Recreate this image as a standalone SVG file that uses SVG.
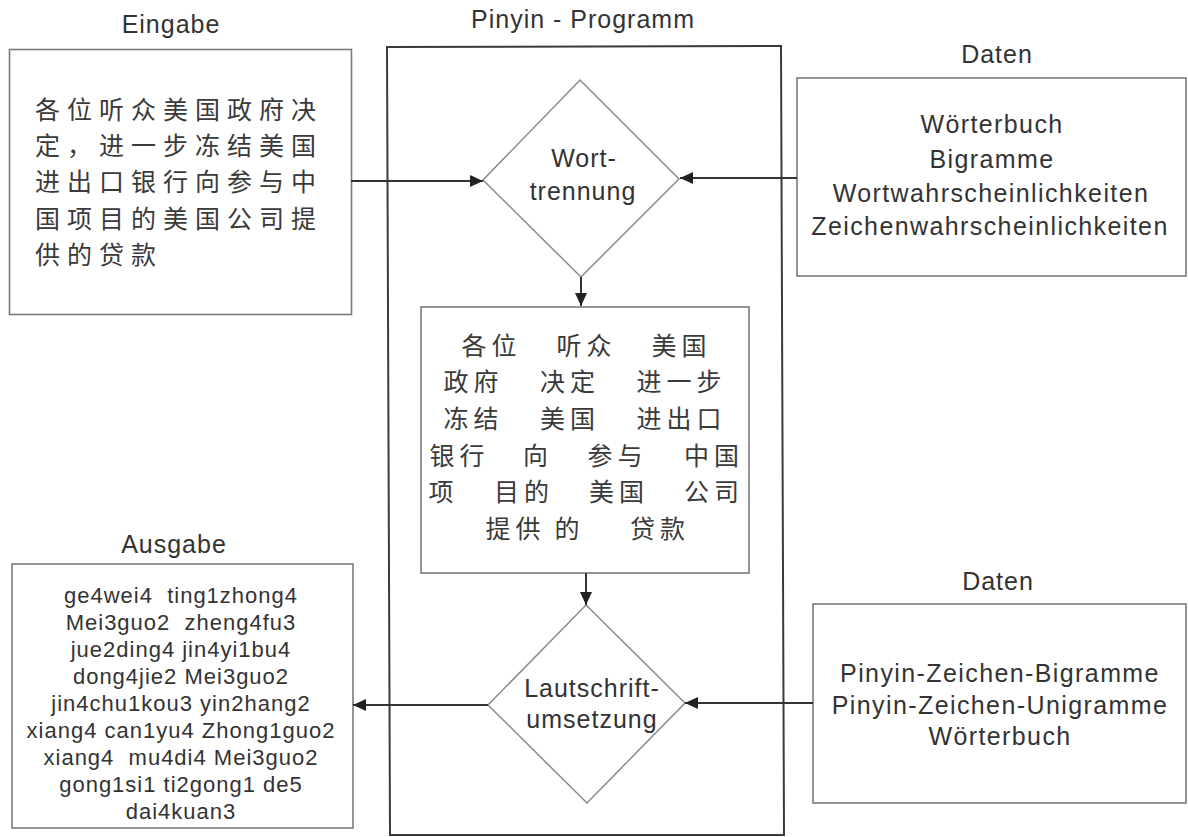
<svg xmlns="http://www.w3.org/2000/svg" width="1188" height="837" viewBox="0 0 1188 837">
  <style>
    .bg { fill: #ffffff; }
    .box { fill: #ffffff; stroke: #7a7a7a; stroke-width: 1.6; }
    .frame { fill: none; stroke: #3a3a3a; stroke-width: 2; }
    .dia { fill: #ffffff; stroke: #8a8a8a; stroke-width: 1.5; }
    .lbl { font-family: "Liberation Sans", Arial, sans-serif; font-size: 25px; letter-spacing: 1px; fill: #333333; text-anchor: middle; }
    .dat { font-family: "Liberation Sans", Arial, sans-serif; font-size: 25px; letter-spacing: 1.4px; fill: #333333; text-anchor: middle; }
    .pin { font-family: "Liberation Sans", Arial, sans-serif; font-size: 22px; letter-spacing: 1px; fill: #333333; text-anchor: middle; white-space: pre; }
    .cjk { font-family: "Noto Sans CJK SC", sans-serif; font-size: 25px; letter-spacing: 7px; fill: #3a3a3a; }
    .seg { font-family: "Noto Sans CJK SC", sans-serif; font-size: 25px; letter-spacing: 5px; fill: #3a3a3a; }
    .conn { fill: none; stroke: #333333; stroke-width: 2; }
  </style>
  <defs>
    <marker id="arrow" markerUnits="userSpaceOnUse" markerWidth="14" markerHeight="12" refX="13" refY="6" orient="auto">
      <path d="M0,0 L13,6 L0,12 Z" fill="#222222"/>
    </marker>
  </defs>

  <rect class="bg" x="0" y="0" width="1188" height="837"/>

  <!-- Input -->
  <g id="eingabe">
    <text class="lbl" x="171" y="33">Eingabe</text>
    <rect class="box" x="9.5" y="49.5" width="342" height="265"/>
    <text class="cjk" x="35" y="118.5">各位听众美国政府决</text>
    <text class="cjk" x="35" y="154.9">定，进一步冻结美国</text>
    <text class="cjk" x="35" y="191.3">进出口银行向参与中</text>
    <text class="cjk" x="35" y="227.7">国项目的美国公司提</text>
    <text class="cjk" x="35" y="264.1">供的贷款</text>
  </g>

  <!-- Program frame -->
  <g id="programm">
    <text class="lbl" x="583" y="28">Pinyin - Programm</text>
    <polygon class="frame" points="387,47 781,46 784,835 390,835"/>
  </g>

  <!-- Word segmentation step -->
  <g id="wort-trennung">
    <polygon class="dia" points="580,80 679,179 581,277 483,180"/>
    <text class="lbl" x="584" y="167">Wort-</text>
    <text class="lbl" x="583" y="200">trennung</text>
  </g>

  <!-- Segmented sentence -->
  <g id="segmentierung">
    <rect class="box" x="421" y="307" width="328" height="266"/>
    <text class="seg" y="354.5"><tspan x="461.5">各位</tspan><tspan x="556.5">听众</tspan><tspan x="651.5">美国</tspan></text>
    <text class="seg" y="391"><tspan x="443.5">政府</tspan><tspan x="540">决定</tspan><tspan x="636.5">进一步</tspan></text>
    <text class="seg" y="427.5"><tspan x="443.5">冻结</tspan><tspan x="540">美国</tspan><tspan x="636.5">进出口</tspan></text>
    <text class="seg" y="464.5"><tspan x="429.5">银行</tspan><tspan x="523">向</tspan><tspan x="587.5">参与</tspan><tspan x="684">中国</tspan></text>
    <text class="seg" y="501"><tspan x="428.5">项</tspan><tspan x="494">目的</tspan><tspan x="589">美国</tspan><tspan x="684">公司</tspan></text>
    <text class="seg" y="537.5"><tspan x="485.5">提供</tspan><tspan x="554.5">的</tspan><tspan x="630">贷款</tspan></text>
  </g>

  <!-- Transcription step -->
  <g id="lautschrift">
    <polygon class="dia" points="586,605 685,703 587,803 488,705"/>
    <text class="lbl" x="592" y="697">Lautschrift-</text>
    <text class="lbl" x="592" y="728">umsetzung</text>
  </g>

  <!-- Output -->
  <g id="ausgabe">
    <text class="lbl" x="174" y="553">Ausgabe</text>
    <rect class="box" x="12" y="564" width="341" height="264"/>
    <text class="pin" x="181" y="603" xml:space="preserve">ge4wei4  ting1zhong4</text>
    <text class="pin" x="181" y="630" xml:space="preserve">Mei3guo2  zheng4fu3</text>
    <text class="pin" x="181" y="657" xml:space="preserve">jue2ding4 jin4yi1bu4</text>
    <text class="pin" x="181" y="684" xml:space="preserve">dong4jie2 Mei3guo2</text>
    <text class="pin" x="181" y="711" xml:space="preserve">jin4chu1kou3 yin2hang2</text>
    <text class="pin" x="181" y="738" xml:space="preserve">xiang4 can1yu4 Zhong1guo2</text>
    <text class="pin" x="181" y="765" xml:space="preserve">xiang4  mu4di4 Mei3guo2</text>
    <text class="pin" x="181" y="792" xml:space="preserve">gong1si1 ti2gong1 de5</text>
    <text class="pin" x="181" y="819" xml:space="preserve">dai4kuan3</text>
  </g>

  <!-- Data for segmentation -->
  <g id="daten-wort">
    <text class="lbl" x="997" y="63">Daten</text>
    <rect class="box" x="797" y="78" width="389" height="198"/>
    <text class="dat" x="992" y="133">Wörterbuch</text>
    <text class="dat" x="992" y="168">Bigramme</text>
    <text class="dat" x="991" y="202">Wortwahrscheinlichkeiten</text>
    <text class="dat" x="990" y="235">Zeichenwahrscheinlichkeiten</text>
  </g>

  <!-- Data for transcription -->
  <g id="daten-laut">
    <text class="lbl" x="998" y="590">Daten</text>
    <rect class="box" x="813" y="604" width="373" height="199"/>
    <text class="dat" x="1000" y="682">Pinyin-Zeichen-Bigramme</text>
    <text class="dat" x="1000" y="714">Pinyin-Zeichen-Unigramme</text>
    <text class="dat" x="1000" y="745">Wörterbuch</text>
  </g>

  <!-- Connectors -->
  <g id="connectors">
    <line class="conn" x1="351" y1="181" x2="483" y2="181" marker-end="url(#arrow)"/>
    <line class="conn" x1="797" y1="178" x2="680" y2="178" marker-end="url(#arrow)"/>
    <line class="conn" x1="581" y1="277" x2="581" y2="306" marker-end="url(#arrow)"/>
    <line class="conn" x1="586" y1="573" x2="586" y2="605" marker-end="url(#arrow)"/>
    <line class="conn" x1="488" y1="705" x2="353" y2="705" marker-end="url(#arrow)"/>
    <line class="conn" x1="813" y1="703" x2="685" y2="703" marker-end="url(#arrow)"/>
  </g>
</svg>
